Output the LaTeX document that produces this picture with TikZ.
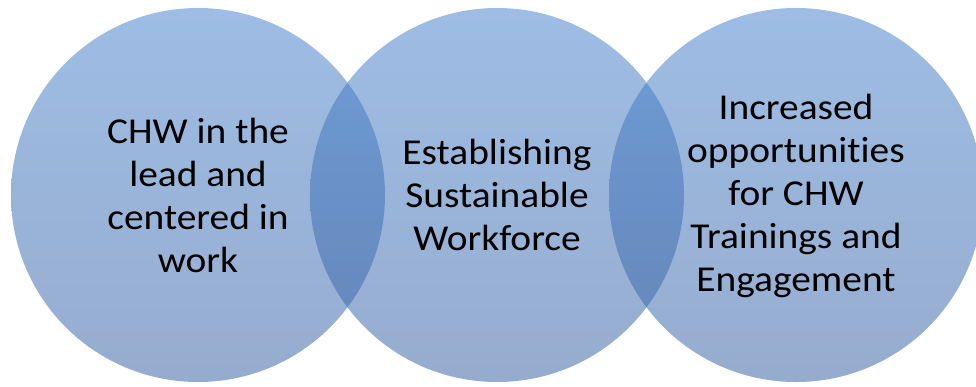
\documentclass[tikz,border=0pt]{standalone}
\usepackage{fontspec}
\setmainfont{Carlito}[Ligatures={NoCommon}, FakeStretch=1.08]
\begin{document}
\begin{tikzpicture}[x=1pt,y=-1pt,
  venn/.style={top color=vennTop, bottom color=vennBottom, fill opacity=0.525, draw=none},
  label/.style={align=center, text=black, font=\fontsize{36.5}{43}\selectfont, inner sep=0pt}]
  \definecolor{vennTop}{RGB}{70,129,204}
  \definecolor{vennBottom}{RGB}{55,97,162}
  % canvas
  \useasboundingbox (0,0) rectangle (976,386);
  \begin{scope}
    \clip (0,0) rectangle (976,386);
    % three overlapping translucent circles
    \shade[venn] (198,195) circle[radius=187];
    \shade[venn] (497,195) circle[radius=187];
    \shade[venn] (796,195) circle[radius=187];
  \end{scope}
  % captions
  \node[label] (lead) at (198,195) {CHW in the\\lead and\\centered in\\work};
  \node[label] (workforce) at (497,195) {Establishing\\Sustainable\\Workforce};
  \node[label] (trainings) at (796,196) {Increased\\opportunities\\for CHW\\Trainings and\\Engagement};
\end{tikzpicture}
\end{document}
